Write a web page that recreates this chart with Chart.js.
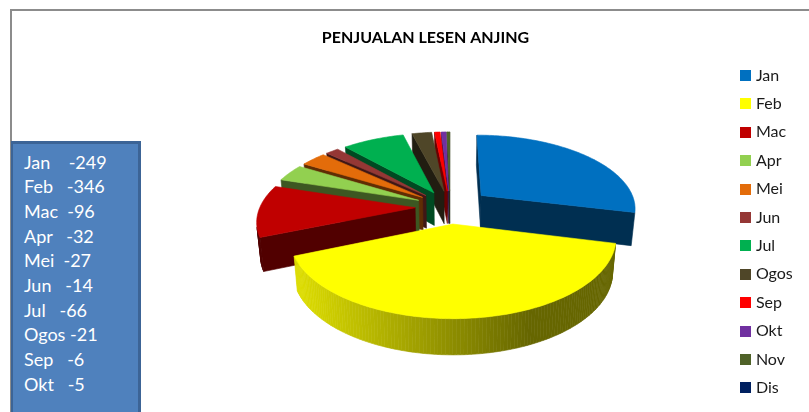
<!DOCTYPE html>
<html><head><meta charset="utf-8">
<style>
html,body{margin:0;padding:0;background:#fff;overflow:hidden}
#frame{position:absolute;left:10px;top:9px;width:799px;height:403px;border-left:2px solid #8c8c8c;border-top:2px solid #8c8c8c;box-sizing:border-box}
#chart{position:absolute;left:0;top:0}
#note{position:absolute;left:11px;top:141px;width:130px;height:271px;background:#4f81bd;border:solid #3c6496;border-width:3px 3px 0 2px;box-sizing:border-box;color:#fff;font:18px/24.7px Lato,sans-serif;white-space:pre;padding:5.5px 0 0 11px}
</style></head><body>
<div id="frame"></div>
<canvas id="chart" width="809" height="412"></canvas>
<div id="note"></div>
<script src="https://cdn.jsdelivr.net/npm/chart.js@4"></script>
<script>
const categories=['Jan','Feb','Mac','Apr','Mei','Jun','Jul','Ogos','Sep','Okt','Nov','Dis'];
const salesValues=[249,346,96,32,27,14,66,21,6,5,3,0];
const sliceColors=['#0070c0','#ffff00','#c00000','#92d050','#e36c0a','#953735','#00b050','#4f4628','#ff0000','#7030a0','#4f6228','#002060'];
const sliceOffsets=[34.6,29.7,29.7,29.7,29.7,29.7,29.7,29.7,29.7,29.7,29.7,29.7];
const noteLines=['Jan    -249','Feb   -346','Mac  -96','Apr   -32','Mei  -27','Jun   -14','Jul   -66','Ogos -21','Sep   -6','Okt   -5'];
const litWallCategories=['Feb'];

document.getElementById('note').textContent=noteLines.join('\n');

function shade(hex,f){
  const n=parseInt(hex.slice(1),16);
  return 'rgb('+[(n>>16)&255,(n>>8)&255,n&255].map(c=>Math.round(c*f)).join(',')+')';
}
function legendSwatch(color){
  const c=document.createElement('canvas');c.width=11;c.height=11;
  const g=c.getContext('2d');g.fillStyle=color;g.fillRect(0,0,11,11);return c;
}
const VIEW={xScale:1.174,yScale:0.555,persp:0.16,depth:33,depthPersp:0.08,shrink:0.02,steps:160,wall:0.42};

const pie3d={
  id:'pie3d',
  afterLayout(chart){
    const a=chart.chartArea;a.left=170;a.right=730;a.top=57.55;a.bottom=356.45;a.width=560;a.height=298.9;
    chart.titleBlock.left+=21;chart.titleBlock.right+=21;
    const dx=730.5-chart.legend.left;chart.legend.left+=dx;chart.legend.right+=dx;
    const dy=55-chart.legend.top;chart.legend.top+=dy;chart.legend.bottom+=dy;
  },
  beforeDatasetsDraw(chart){
    const ctx=chart.ctx,arcs=chart.getDatasetMeta(0).data;
    const order=arcs.map((el,i)=>i).filter(i=>salesValues[i]>0);
    const mid=i=>(arcs[i].startAngle+arcs[i].endAngle)/2;
    order.sort((p,q)=>Math.sin(mid(p))-Math.sin(mid(q)));
    const R=arcs[0].outerRadius,cx=arcs[0].x,cy=arcs[0].y;
    const rx=R*VIEW.xScale,ry=R*VIEW.yScale;
    const top=(u,v)=>{const s=1/(1-VIEW.persp*v);return [cx+rx*u*s,cy+ry*v*s];};
    const bottom=(u,v)=>{const p=top(u,v);return [cx+(p[0]-cx)*(1-VIEW.shrink),p[1]+VIEW.depth*(1+VIEW.depthPersp*v)];};
    const poly=(pts,color)=>{
      ctx.beginPath();pts.forEach((p,k)=>k?ctx.lineTo(p[0],p[1]):ctx.moveTo(p[0],p[1]));ctx.closePath();
      ctx.fillStyle=color;ctx.strokeStyle=color;ctx.lineWidth=0.6;ctx.lineJoin='round';ctx.fill();ctx.stroke();
    };
    for(const i of order){
      const el=arcs[i],m=mid(i),e=el.options.offset/R;
      const ou=e*Math.cos(m),ov=e*Math.sin(m);
      const rim=[[ou,ov]];
      const n=Math.max(2,Math.ceil(VIEW.steps*(el.endAngle-el.startAngle)/Math.PI));
      for(let k=0;k<=n;k++){
        const a=el.startAngle+(el.endAngle-el.startAngle)*k/n;
        rim.push([ou+Math.cos(a),ov+Math.sin(a)]);
      }
      const color=sliceColors[i],lit=litWallCategories.includes(categories[i]);
      for(let k=0;k<rim.length;k++){
        const P=rim[k],Q=rim[(k+1)%rim.length];
        const q=[top(...P),top(...Q),bottom(...Q),bottom(...P)];
        let area=0;q.forEach((p,j)=>{const r=q[(j+1)%4];area+=p[0]*r[1]-r[0]*p[1];});
        if(area>=0)continue;
        let f=VIEW.wall;
        if(lit&&k>0&&k<rim.length-1){
          const x=(q[0][0]+q[1][0])/2;
          f=Math.max(0.4,Math.min(0.86,0.86-(x-300)/230*0.46));
        }
        poly(q,shade(color,f));
      }
      poly(rim.map(p=>top(...p)),color);
    }
    return false;
  }
};

new Chart(document.getElementById('chart'),{
  type:'pie',
  data:{labels:categories,datasets:[{data:salesValues,backgroundColor:sliceColors,borderWidth:0,offset:sliceOffsets}]},
  plugins:[pie3d],
  options:{
    responsive:false,animation:false,
    layout:{padding:0},
    plugins:{
      tooltip:{enabled:false},
      title:{display:true,text:'PENJUALAN LESEN ANJING',color:'#000',font:{family:'Lato',size:16,weight:'bold'},padding:{top:28,bottom:10}},
      legend:{position:'right',align:'start',labels:{
        color:'#1a1a1a',font:{family:'Lato',size:16},boxHeight:11,padding:12.4,usePointStyle:true,pointStyleWidth:5,
        generateLabels(chart){
          return Chart.overrides.doughnut.plugins.legend.labels.generateLabels(chart).map((it,i)=>Object.assign(it,{pointStyle:legendSwatch(sliceColors[i]),hidden:false}));
        }
      }}
    }
  }
});
</script>
</body></html>
